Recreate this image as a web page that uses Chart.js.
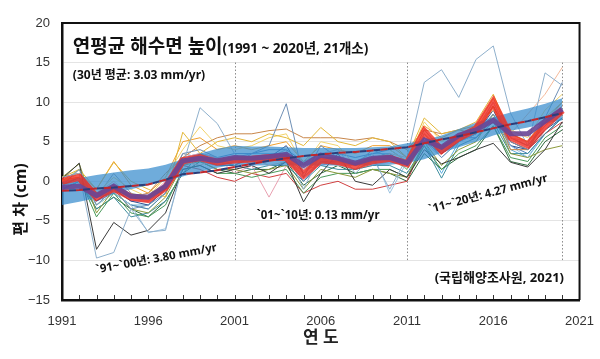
<!DOCTYPE html>
<html>
<head>
<meta charset="utf-8">
<script src="https://cdn.jsdelivr.net/npm/chart.js@4.4.1/dist/chart.umd.min.js"></script>
<style>
  html, body { margin: 0; padding: 0; background: #fff; }
</style>
</head>
<body>
<canvas id="seaChart" width="600" height="359"></canvas>
<script>
// 연도 (1991 ~ 2020)
const years = [1991,1992,1993,1994,1995,1996,1997,1998,1999,2000,
               2001,2002,2003,2004,2005,2006,2007,2008,2009,2010,
               2011,2012,2013,2014,2015,2016,2017,2018,2019,2020];
const xTickYears = [1991, 1996, 2001, 2006, 2011, 2016, 2021];
const periodLines = [2001, 2011, 2020];

// 21개 관측소 편차 (cm)
const st01 = [0.5,1.0,-9.7,-9.0,-3.5,-6.4,-6.2,2.0,9.3,7.3, 3.5,2.0,3.0,4.0,-1.0,3.5,4.0,1.0,3.0,-1.0, 3.0,12.5,14.1,10.6,15.4,17.1,8.6,4.5,13.7,12.1];
const st02 = [-0.5,1.5,-3.0,-1.0,-3.5,-3.0,-1.5,3.5,4.0,3.0, 2.0,3.5,4.5,9.8,0.5,4.5,3.0,2.0,4.0,3.0, 2.5,5.5,3.0,5.0,6.0,8.5,5.0,4.0,8.0,12.5];
const st03 = [0.3,2.3,-8.6,-5.2,-6.8,-6.2,-4.0,1.5,2.0,1.0, 1.5,2.0,1.0,2.5,-2.6,1.0,3.5,0.0,-0.5,1.5, 0.5,4.0,2.2,3.0,4.0,4.8,2.4,1.8,4.0,7.5];
const st04 = [0.5,1.5,-1.0,2.4,0.0,-1.0,-2.0,6.2,3.5,5.0, 5.5,5.0,6.0,5.5,4.5,6.8,5.0,4.5,5.5,5.0, 3.0,8.0,6.0,6.5,7.5,11.0,6.0,5.0,8.0,10.0];
const st05 = [0.0,1.0,-1.5,0.5,-1.0,-2.0,0.5,4.0,6.9,4.5, 4.0,4.5,5.5,6.0,2.0,5.0,4.5,2.0,4.0,4.0, 2.5,7.5,5.0,6.0,7.0,9.0,6.5,5.5,9.0,11.0];
const st06 = [0.2,0.5,-2.0,-0.5,-2.0,-1.5,1.0,3.0,4.5,5.5, 6.0,6.0,6.4,6.6,5.5,5.5,5.5,5.2,5.5,5.0, 4.0,6.5,6.0,6.5,6.0,9.5,4.0,4.0,7.5,10.0];
const st07 = [0.0,0.5,-1.5,0.0,-2.0,-2.5,-0.5,2.5,2.0,3.0, 2.5,3.0,2.0,2.5,1.0,3.0,2.0,2.0,3.0,3.5, 3.0,5.5,4.5,5.0,6.0,8.0,6.0,8.5,11.0,14.4];
const st08 = [0.5,2.2,-4.0,-1.0,-3.5,-4.0,-2.0,2.0,2.5,1.5, 1.5,1.0,1.5,2.0,-1.0,1.5,1.0,0.5,1.5,1.0, 0.5,5.0,2.0,4.0,5.0,8.5,3.5,3.0,4.0,4.5];
const st09 = [-0.5,0.5,-4.5,-1.5,-4.0,-4.5,-3.0,1.5,2.0,1.0, 1.0,0.5,1.0,1.5,-1.5,0.5,1.0,1.0,1.5,1.5, 0.5,4.5,1.5,3.5,4.5,7.0,3.0,2.5,5.5,7.0];
const st10 = [-1.0,0.0,-3.5,-2.0,-4.5,-4.0,-2.5,1.0,3.5,2.5, 2.0,1.5,2.0,2.0,0.0,2.0,1.5,1.5,2.0,2.0, 1.0,4.5,0.4,4.5,5.5,7.5,3.5,3.5,6.0,8.0];
const st11 = [-0.5,0.0,-3.0,-1.5,-3.0,-6.5,-6.0,2.0,3.0,2.0, 2.5,3.0,2.5,3.5,0.5,2.5,2.0,1.5,3.5,-1.5, 2.5,5.0,3.0,5.0,6.0,8.5,4.5,3.0,6.5,8.5];
const st12 = [-1.0,0.0,-2.5,-1.0,-2.5,-3.0,-1.0,2.5,3.0,2.0, 2.0,3.0,3.0,4.5,1.0,3.0,3.0,2.0,3.0,3.5, 2.0,5.5,3.5,5.0,6.0,9.0,4.5,4.0,6.5,8.0];
const st13 = [0.5,1.0,-1.5,-1.0,-2.0,-2.0,-1.0,2.0,1.5,0.5, 0.0,1.0,0.5,1.0,-1.5,-0.5,0.0,-1.0,-1.0,-0.5, 0.0,5.0,3.5,5.0,6.0,9.5,5.0,4.0,6.0,7.5];
const st14 = [0.0,0.5,-2.0,-0.5,-2.0,-2.0,0.0,3.0,3.5,3.0, 1.0,2.0,-2.0,2.0,1.5,2.0,2.5,1.5,2.0,2.5, 2.0,6.0,4.0,5.5,6.5,10.0,5.5,5.0,7.0,9.5];
const st15 = [0.0,1.0,-1.0,2.5,-0.5,-1.5,0.5,5.0,5.5,4.0, 4.5,4.0,4.5,5.0,2.5,4.5,4.0,3.5,4.5,4.5, 3.0,7.0,5.5,6.5,7.0,10.5,6.0,5.0,7.5,9.5];
const st16 = [-0.5,0.5,-2.5,-1.5,-3.0,-3.5,-1.5,3.0,3.5,3.0, 3.5,3.5,4.0,4.0,2.5,3.5,3.5,3.0,3.5,4.0, 2.5,5.5,4.5,5.5,5.5,8.0,4.5,3.5,6.0,8.0];
const st17 = [-0.5,0.5,-3.5,-2.0,-3.5,-4.5,-2.5,1.0,2.5,1.5, 1.0,1.5,1.5,2.5,-0.5,1.0,2.0,1.0,1.5,1.0, 0.0,3.5,1.5,3.0,4.0,7.0,2.5,2.0,5.0,6.5];
const st18 = [0.0,1.5,-3.0,-1.5,-3.0,-3.5,-1.5,2.0,3.5,2.0, 2.5,2.5,3.0,3.0,0.5,2.5,2.0,1.5,2.5,3.0, 1.5,6.0,3.5,5.0,6.5,9.5,5.0,4.0,6.5,8.5];
const st19 = [0.5,1.0,-2.0,1.0,-1.5,-2.0,-0.5,3.5,3.0,2.5, 3.0,3.0,3.0,3.5,1.5,3.0,3.0,2.5,3.0,3.0, 2.0,6.5,4.0,6.0,6.5,10.0,5.5,4.5,7.5,9.5];
const st20 = [-0.5,0.0,-2.5,-1.0,-2.5,-2.5,-1.0,2.5,2.5,2.0, 2.5,2.5,3.0,3.0,0.0,2.5,2.5,2.0,2.5,3.0, 2.0,6.0,3.5,5.5,6.5,9.5,5.5,4.5,7.0,9.0];
const st21 = [-1.0,0.0,-2.0,-1.5,-3.0,-3.0,-1.0,2.0,3.0,2.5, 3.0,3.5,3.5,3.5,1.0,3.5,3.0,2.5,3.5,3.5, 1.5,5.0,1.0,5.0,6.0,8.0,4.0,3.0,6.0,8.0];
const stations = [st01,st02,st03,st04,st05,st06,st07,st08,st09,st10,st11,
                  st12,st13,st14,st15,st16,st17,st18,st19,st20,st21];
const stationColors = ['#8FB0CC','#6E8FB5','#3A3A3A','#E3B83A','#F2D36B','#C8864A','#F4B99A',
                       '#8C9A3C','#4A9A5A','#3E8E9E','#9CC3E0','#2F4F8F','#D04040','#E8A0B0',
                       '#F0A030','#4A7FC0','#2E6B3E','#9CCB7A','#9A9A9A','#8E6BB0','#5FB0E0'];

// 21개소 평균, 평활선, 추세 밴드, 추세선
const meanLevel   = [0.0,0.5,-2.0,-0.9,-2.0,-2.3,-0.8,2.6,3.0,2.4, 2.7,2.8,3.0,3.0,0.8,2.7,2.5,1.9,2.6,2.9, 2.2,6.3,3.9,5.5,6.6,10.0,5.6,4.6,7.0,9.0];
const smoothLevel = [-0.8,-0.6,-1.8,-0.6,-1.9,-2.0,-0.6,2.6,2.9,2.6, 3.0,2.9,3.1,3.4,2.0,3.3,2.9,2.3,2.9,3.0, 2.3,5.2,4.3,5.8,6.5,7.7,6.0,6.0,7.6,9.1];
const bandUpper   = [0.0,0.4,0.8,1.1,1.4,1.6,2.1,2.8,3.5,4.1, 4.5,4.4,4.4,4.3,4.2,4.2,4.2,4.2,4.3,4.4, 4.8,5.2,5.8,6.6,7.4,8.1,8.7,9.2,9.8,10.5];
const bandLower   = [-3.0,-2.6,-2.1,-1.6,-1.0,-0.5,0.0,0.6,1.2,1.7, 2.1,2.0,2.0,2.0,2.0,2.0,2.0,2.0,2.0,2.1, 2.3,2.8,3.6,4.3,5.0,5.8,6.4,6.8,7.3,7.7];
const trendLine   = [-1.2,-1.1,-0.9,-0.8,-0.6,-0.4,0.2,0.9,1.1,1.4, 1.8,2.2,2.6,2.9,3.2,3.4,3.6,3.7,3.9,4.1, 4.3,4.8,5.3,5.7,6.2,6.7,7.2,7.6,8.1,8.6];

const pts = arr => arr.map((v, i) => ({ x: years[i], y: v }));
const koFont = '"Noto Sans", "Noto Sans CJK KR", sans-serif';
const numFont = '"Liberation Sans", Arial, sans-serif';

const datasets = [];
datasets.push({ data: pts(trendLine), borderColor: '#C0282D', borderWidth: 2, borderDash: [7, 7], order: 0 });
datasets.push({ data: pts(trendLine), borderColor: '#2C3E7A', borderWidth: 2, borderDash: [7, 7], borderDashOffset: 7, order: 0 });
datasets.push({ data: pts(smoothLevel), borderColor: 'rgba(105,70,150,0.9)', borderWidth: 5, order: 1 });
datasets.push({ data: pts(meanLevel), borderColor: 'rgba(240,45,35,0.8)', borderWidth: 7, order: 2 });
const lowerIndex = datasets.length;
datasets.push({ data: pts(bandLower), borderColor: 'rgba(0,0,0,0)', borderWidth: 0, order: 4 });
datasets.push({ data: pts(bandUpper), borderColor: 'rgba(0,0,0,0)', borderWidth: 0,
                backgroundColor: 'rgba(55,140,205,0.72)', fill: { target: lowerIndex }, order: 3 });
stations.forEach((s, i) => {
  datasets.push({ data: pts(s), borderColor: stationColors[i], borderWidth: 1, order: 10 });
});

// 점선 구간, 테두리, 눈금, 글자
const notes = {
  id: 'notes',
  beforeDatasetsDraw(chart) {
    const { ctx, scales: { x, y } } = chart;
    ctx.save();
    ctx.strokeStyle = '#8a8a8a';
    ctx.lineWidth = 1;
    ctx.setLineDash([1.5, 2]);
    periodLines.forEach(yr => {
      const px = Math.round(x.getPixelForValue(yr)) + 0.5;
      ctx.beginPath();
      ctx.moveTo(px, y.getPixelForValue(15));
      ctx.lineTo(px, y.getPixelForValue(-10));
      ctx.stroke();
    });
    ctx.restore();
  },
  afterDraw(chart) {
    const { ctx, chartArea: a, scales: { x, y } } = chart;
    ctx.save();
    // 위, 오른쪽 테두리
    ctx.strokeStyle = '#111';
    ctx.lineWidth = 2;
    ctx.beginPath();
    ctx.moveTo(a.left, a.top);
    ctx.lineTo(a.right, a.top);
    ctx.lineTo(a.right, a.bottom);
    ctx.stroke();
    // 연도별 작은 눈금
    ctx.lineWidth = 1;
    ctx.strokeStyle = '#333';
    for (let yr = 1992; yr <= 2020; yr++) {
      const px = Math.round(x.getPixelForValue(yr)) + 0.5;
      ctx.beginPath();
      ctx.moveTo(px, a.bottom - 1);
      ctx.lineTo(px, a.bottom - 5);
      ctx.stroke();
    }

    const at = (xv, yv) => [x.getPixelForValue(xv), y.getPixelForValue(yv)];
    ctx.fillStyle = '#111';
    ctx.textBaseline = 'alphabetic';
    ctx.textAlign = 'left';
    let [tx, ty] = at(1991.63, 16.2);
    ctx.font = 'bold 19px ' + koFont;
    ctx.fillText('연평균 해수면 높이', tx, ty);
    tx += ctx.measureText('연평균 해수면 높이').width;
    ctx.font = 'bold 13.5px ' + koFont;
    ctx.fillText('(1991 ~ 2020년, 21개소)', tx, ty);

    ctx.textBaseline = 'middle';
    ctx.font = 'bold 12px ' + koFont;
    [tx, ty] = at(1991.63, 13.3);
    ctx.fillText('(30년 평균: 3.03 mm/yr)', tx, ty);

    ctx.font = 'bold 11.5px ' + koFont;
    [tx, ty] = at(2002.28, -4.3);
    ctx.fillText('`01~`10년: 0.13 mm/yr', tx, ty);

    ctx.textAlign = 'right';
    ctx.font = 'bold 13px ' + koFont;
    [tx, ty] = at(2020.1, -12.2);
    ctx.fillText('(국립해양조사원, 2021)', tx, ty);

    ctx.textAlign = 'center';
    ctx.font = 'bold 11.5px ' + koFont;
    [tx, ty] = at(1996.47, -9.8);
    ctx.translate(tx, ty);
    ctx.rotate(-10.5 * Math.PI / 180);
    ctx.fillText('`91~`00년: 3.80 mm/yr', 0, 0);
    ctx.setTransform(1, 0, 0, 1, 0, 0);
    [tx, ty] = at(2015.7, -1.6);
    ctx.translate(tx, ty);
    ctx.rotate(-15 * Math.PI / 180);
    ctx.fillText('`11~`20년: 4.27 mm/yr', 0, 0);
    ctx.setTransform(1, 0, 0, 1, 0, 0);

    // 세로축 제목
    ctx.font = 'bold 16px ' + koFont;
    ctx.translate(21, (a.top + a.bottom) / 2 + 38);
    ctx.rotate(-Math.PI / 2);
    ctx.fillText('편 차 (cm)', 0, 0);
    ctx.restore();
  }
};

new Chart(document.getElementById('seaChart'), {
  type: 'line',
  data: { datasets },
  options: {
    responsive: false,
    animation: false,
    layout: { padding: { top: 23, right: 17, left: 0, bottom: 0 } },
    elements: { point: { radius: 0 }, line: { tension: 0, fill: false } },
    plugins: { legend: { display: false }, tooltip: { enabled: false } },
    scales: {
      x: {
        type: 'linear',
        min: 1991,
        max: 2021,
        afterBuildTicks: scale => { scale.ticks = xTickYears.map(v => ({ value: v })); },
        afterFit: scale => { scale.height = 59; },
        grid: { display: false },
        border: { display: true, color: '#111', width: 2.5 },
        ticks: { padding: 6, color: '#333', font: { family: numFont, size: 13 },
                 callback: v => String(v), maxRotation: 0 },
        title: { display: true, text: '연 도', color: '#222',
                 font: { family: koFont, size: 17, weight: 'bold' }, padding: { top: 0, bottom: 11 } }
      },
      y: {
        min: -15,
        max: 20,
        afterFit: scale => { scale.width = 62; },
        grid: { color: '#e4e4e4', lineWidth: 1, drawTicks: false },
        border: { display: true, color: '#111', width: 2.5 },
        ticks: { stepSize: 5, padding: 12, color: '#333', font: { family: numFont, size: 13 },
                 callback: v => String(v).replace('-', '−') }
      }
    }
  },
  plugins: [notes]
});
</script>
</body>
</html>
